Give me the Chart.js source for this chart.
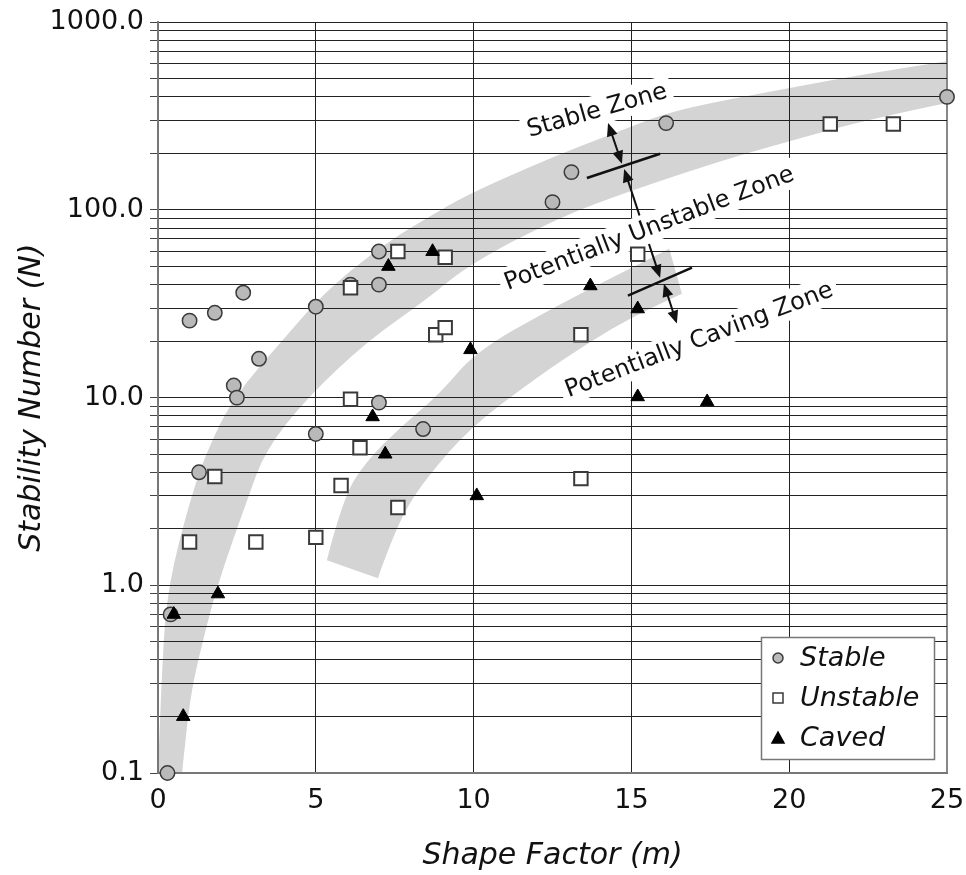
<!DOCTYPE html>
<html>
<head>
<meta charset="utf-8">
<title>Stability Graph</title>
<script src="https://cdn.jsdelivr.net/npm/chart.js@4.4.1/dist/chart.umd.min.js"></script>
<style>
  html, body { margin: 0; padding: 0; background: #fff; }
  #wrap { width: 966px; height: 875px; }
</style>
</head>
<body>
<div id="wrap"><canvas id="stabilityChart" width="966" height="875"></canvas></div>
<script>
// --- data ---
const stableX = [0.3, 0.4, 1.3, 1.0, 1.8, 2.7, 3.2, 2.4, 2.5, 5.0, 5.0, 6.1, 7.0, 7.0, 7.0, 8.4, 12.5, 13.1, 16.1, 25.0];
const stableY = [0.1, 0.7, 4.0, 25.7, 28.3, 36.2, 16.1, 11.6, 10.0, 30.5, 6.4, 40.0, 60.0, 40.0, 9.4, 6.8, 110, 159, 290, 400];

const unstableX = [1.0, 1.8, 3.1, 5.0, 5.8, 6.4, 6.1, 6.1, 7.6, 7.6, 8.8, 9.1, 9.1, 13.4, 13.4, 15.2, 21.3, 23.3];
const unstableY = [1.7, 3.8, 1.7, 1.8, 3.4, 5.4, 9.8, 38.5, 60, 2.6, 21.6, 23.6, 56, 21.6, 3.7, 58, 287, 287];

const cavedX = [0.5, 0.8, 1.9, 6.8, 7.2, 7.3, 8.7, 9.9, 10.1, 13.7, 15.2, 15.2, 17.4];
const cavedY = [0.7, 0.2, 0.9, 7.9, 5.0, 50, 60, 18, 3.0, 39.4, 29.7, 10.1, 9.5];

// y gridlines (1..9 per decade) and the labelled decades
const yTickValues = [0.1, 0.2, 0.3, 0.4, 0.5, 0.6, 0.7, 0.8, 0.9,
  1, 2, 3, 4, 5, 6, 7, 8, 9,
  10, 20, 30, 40, 50, 60, 70, 80, 90,
  100, 200, 300, 400, 500, 600, 700, 800, 900, 1000];
const yLabelValues = [0.1, 1, 10, 100, 1000];

// transition zones (gray bands), outer edge then inner edge
const band1UpperX = [0, 0.13, 0.32, 1.01, 1.55, 2.38, 3.93, 5.04, 6.08, 7.35, 8.52, 9.89, 12.74, 14.64, 16.1, 17.81, 20.03, 22.56, 25.0];
const band1UpperY = [0.1, 0.4, 1.0, 2.83, 5.2, 10, 20.1, 32.8, 47.4, 68.4, 90.7, 123, 199, 263, 328, 380, 446, 535, 620];
const band1LowerX = [0.76, 1.01, 1.27, 1.87, 2.82, 3.39, 4.72, 6.65, 8.46, 9.89, 12.74, 14.96, 17.81, 20.03, 22.56, 25.0];
const band1LowerY = [0.1, 0.245, 0.4, 1.0, 2.83, 5.2, 10, 20.1, 32.8, 51.6, 91.8, 126, 182, 233, 305, 371];

const band2UpperX = [5.35, 5.86, 6.62, 7.67, 8.94, 10.04, 12.5, 16.2];
const band2UpperY = [1.36, 2.94, 4.62, 6.92, 10.5, 17.4, 30.1, 62.1];
const band2LowerX = [6.97, 7.13, 7.76, 8.52, 9.89, 12.0, 13.6, 15.2, 16.6];
const band2LowerY = [1.09, 1.31, 2.42, 3.75, 6.92, 12.8, 19.4, 28.0, 35.8];

// zone labels
const zoneLabels = ['Stable Zone', 'Potentially Unstable Zone', 'Potentially Caving Zone'];
const zoneLabelX = [13.91, 15.56, 17.14];
const zoneLabelY = [340, 80.2, 20.4];
const zoneLabelAngle = [-16, -21, -21];

// boundary marks [x1, y1, x2, y2] and arrows [x1, y1, x2, y2]
const boundaryLines = [[13.59, 148, 15.91, 199], [14.89, 34.9, 16.92, 49.2]];
const arrowLines = [[14.26, 290, 14.70, 176], [14.77, 165, 15.91, 43.5], [16.03, 40.4, 16.44, 24.8]];

const legendLabels = ['Stable', 'Unstable', 'Caved'];

const FONT = '"DejaVu Sans", "Noto Sans", sans-serif';

function toPoints(xs, ys) {
  return xs.map((v, i) => ({ x: v, y: ys[i] }));
}

function px(chart, xv, yv) {
  return [chart.scales.x.getPixelForValue(xv), chart.scales.y.getPixelForValue(yv)];
}

// smooth edge through points (quadratic via midpoints)
function traceEdge(ctx, pts, first) {
  if (first) ctx.moveTo(pts[0][0], pts[0][1]); else ctx.lineTo(pts[0][0], pts[0][1]);
  for (let i = 1; i < pts.length - 1; i++) {
    const mx = (pts[i][0] + pts[i + 1][0]) / 2;
    const my = (pts[i][1] + pts[i + 1][1]) / 2;
    ctx.quadraticCurveTo(pts[i][0], pts[i][1], mx, my);
  }
  const last = pts[pts.length - 1];
  ctx.lineTo(last[0], last[1]);
}

function drawBand(chart, ux, uy, lx, ly) {
  const ctx = chart.ctx;
  const upper = ux.map((v, i) => px(chart, v, uy[i]));
  const lower = lx.map((v, i) => px(chart, v, ly[i])).reverse();
  ctx.beginPath();
  traceEdge(ctx, upper, true);
  traceEdge(ctx, lower, false);
  ctx.closePath();
  ctx.fill();
}

function arrowHead(ctx, x, y, ang) {
  const len = 13, half = 5.5;
  ctx.beginPath();
  ctx.moveTo(x, y);
  ctx.lineTo(x - len * Math.cos(ang) + half * Math.sin(ang), y - len * Math.sin(ang) - half * Math.cos(ang));
  ctx.lineTo(x - len * Math.cos(ang) - half * Math.sin(ang), y - len * Math.sin(ang) + half * Math.cos(ang));
  ctx.closePath();
  ctx.fill();
}

const bandPlugin = {
  id: 'bands',
  beforeDraw(chart) {
    const { ctx, chartArea } = chart;
    ctx.save();
    ctx.beginPath();
    ctx.rect(chartArea.left, chartArea.top, chartArea.right - chartArea.left, chartArea.bottom - chartArea.top);
    ctx.clip();
    ctx.fillStyle = '#d4d4d4';
    drawBand(chart, band1UpperX, band1UpperY, band1LowerX, band1LowerY);
    drawBand(chart, band2UpperX, band2UpperY, band2LowerX, band2LowerY);
    ctx.restore();
  }
};

const annotationPlugin = {
  id: 'zoneNotes',
  beforeDatasetsDraw(chart) {
    const ctx = chart.ctx;
    ctx.save();
    ctx.strokeStyle = '#111';
    ctx.fillStyle = '#111';
    ctx.lineWidth = 2.5;
    boundaryLines.forEach(l => {
      const a = px(chart, l[0], l[1]), b = px(chart, l[2], l[3]);
      ctx.beginPath(); ctx.moveTo(a[0], a[1]); ctx.lineTo(b[0], b[1]); ctx.stroke();
    });
    ctx.lineWidth = 2;
    arrowLines.forEach(l => {
      const a = px(chart, l[0], l[1]), b = px(chart, l[2], l[3]);
      const ang = Math.atan2(b[1] - a[1], b[0] - a[0]);
      ctx.beginPath();
      ctx.moveTo(a[0] + 8 * Math.cos(ang), a[1] + 8 * Math.sin(ang));
      ctx.lineTo(b[0] - 8 * Math.cos(ang), b[1] - 8 * Math.sin(ang));
      ctx.stroke();
      arrowHead(ctx, b[0], b[1], ang);
      arrowHead(ctx, a[0], a[1], ang + Math.PI);
    });

    ctx.font = '24px ' + FONT;
    ctx.textAlign = 'center';
    ctx.textBaseline = 'middle';
    zoneLabels.forEach((t, i) => {
      const p = px(chart, zoneLabelX[i], zoneLabelY[i]);
      ctx.save();
      ctx.translate(p[0], p[1]);
      ctx.rotate(zoneLabelAngle[i] * Math.PI / 180);
      const w = ctx.measureText(t).width;
      ctx.fillStyle = '#fff';
      ctx.fillRect(-w / 2 - 5, -15, w + 10, 30);
      ctx.fillStyle = '#111';
      ctx.fillText(t, 0, 1);
      ctx.restore();
    });
    ctx.restore();
  }
};

const legendPlugin = {
  id: 'boxLegend',
  afterDraw(chart) {
    const { ctx, chartArea } = chart;
    const w = 173, h = 122;
    const left = chartArea.right - 13 - w;
    const top = chartArea.bottom - 14 - h;
    ctx.save();
    ctx.fillStyle = '#fff';
    ctx.fillRect(left, top, w, h);
    ctx.strokeStyle = '#777';
    ctx.lineWidth = 1.5;
    ctx.strokeRect(left + 0.5, top + 0.5, w, h);

    ctx.font = 'italic 27px ' + FONT;
    ctx.textAlign = 'left';
    ctx.textBaseline = 'middle';
    legendLabels.forEach((label, i) => {
      const cy = top + 21 + i * 40;
      const cx = left + 17;
      const ds = chart.data.datasets[i];
      ctx.fillStyle = ds.backgroundColor;
      ctx.strokeStyle = ds.borderColor;
      ctx.lineWidth = 1.5;
      ctx.beginPath();
      if (ds.pointStyle === 'circle') {
        ctx.arc(cx, cy, 5, 0, Math.PI * 2);
      } else if (ds.pointStyle === 'rect') {
        ctx.rect(cx - 5, cy - 5, 10, 10);
      } else {
        ctx.moveTo(cx, cy - 6);
        ctx.lineTo(cx + 6, cy + 5);
        ctx.lineTo(cx - 6, cy + 5);
        ctx.closePath();
      }
      ctx.fill();
      ctx.stroke();
      ctx.fillStyle = '#111';
      ctx.fillText(label, left + 39, cy + 1);
    });
    ctx.restore();
  }
};

const ctx = document.getElementById('stabilityChart').getContext('2d');

new Chart(ctx, {
  type: 'scatter',
  data: {
    datasets: [
      {
        label: 'Stable',
        data: toPoints(stableX, stableY),
        pointStyle: 'circle',
        pointRadius: 7.2,
        backgroundColor: '#b9b9b9',
        borderColor: '#3a3a3a',
        borderWidth: 1.5,
        order: 2,
        clip: false
      },
      {
        label: 'Unstable',
        data: toPoints(unstableX, unstableY),
        pointStyle: 'rect',
        pointRadius: 9.5,
        backgroundColor: '#ffffff',
        borderColor: '#3a3a3a',
        borderWidth: 2,
        order: 1,
        clip: false
      },
      {
        label: 'Caved',
        data: toPoints(cavedX, cavedY),
        pointStyle: 'triangle',
        pointRadius: 7.8,
        backgroundColor: '#000000',
        borderColor: '#000000',
        borderWidth: 1,
        order: 0,
        clip: false
      }
    ]
  },
  options: {
    responsive: false,
    animation: false,
    events: [],
    layout: { padding: { top: 21, right: 19, left: 0, bottom: 0 } },
    plugins: {
      legend: { display: false },
      tooltip: { enabled: false }
    },
    scales: {
      x: {
        type: 'linear',
        min: 0,
        max: 25,
        afterFit: s => { s.height = 102; s.paddingLeft = 0; s.paddingRight = 0; },
        ticks: {
          stepSize: 5,
          padding: 12,
          maxRotation: 0,
          color: '#111',
          font: { family: FONT, size: 27 }
        },
        grid: {
          drawTicks: false,
          color: c => (c.tick && c.tick.value === 25 ? '#888' : '#222'),
          lineWidth: c => (c.tick && c.tick.value === 25 ? 2 : 1)
        },
        border: { color: '#777', width: 2 },
        title: {
          display: true,
          text: 'Shape Factor (m)',
          color: '#111',
          padding: { top: 0, bottom: 1 },
          font: { family: FONT, size: 30, style: 'italic' }
        }
      },
      y: {
        type: 'logarithmic',
        min: 0.1,
        max: 1000,
        afterFit: s => { s.width = 158; },
        afterBuildTicks: s => { s.ticks = yTickValues.map(v => ({ value: v })); },
        ticks: {
          autoSkip: false,
          padding: 6,
          color: '#111',
          font: { family: FONT, size: 27 },
          callback: v => (yLabelValues.some(d => Math.abs(d - v) < 1e-9) ? Number(v).toFixed(1) : '')
        },
        grid: {
          color: '#222',
          lineWidth: 1,
          tickLength: 8,
          tickColor: '#444'
        },
        border: { color: '#777', width: 2 },
        title: {
          display: true,
          text: 'Stability Number (N)',
          color: '#111',
          padding: { top: 14, bottom: 0 },
          font: { family: FONT, size: 30, style: 'italic' }
        }
      }
    }
  },
  plugins: [bandPlugin, annotationPlugin, legendPlugin]
});
</script>
</body>
</html>
